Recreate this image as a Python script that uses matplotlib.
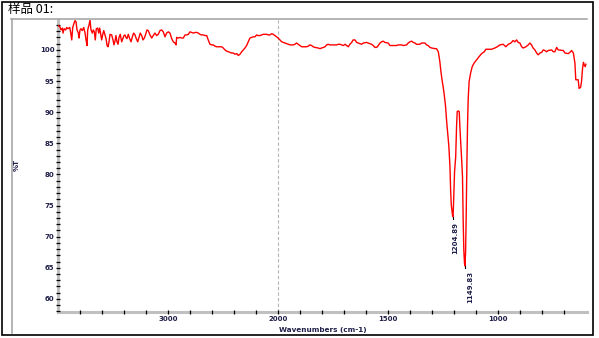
import numpy as np
import matplotlib
matplotlib.use("Agg")
import matplotlib.pyplot as plt
from matplotlib.lines import Line2D

# spectrum (wavenumber cm-1, %T)
wn = [4000, 3982, 3973, 3961, 3954, 3945, 3930, 3921, 3909, 3893, 3884, 3875, 3866, 3854,
      3845, 3836, 3827, 3815, 3809, 3800, 3791, 3779, 3766, 3754, 3745, 3736, 3730, 3718,
      3709, 3700, 3688, 3679, 3670, 3661, 3652, 3639, 3630, 3621, 3612, 3603, 3593, 3584,
      3573, 3563, 3554, 3545, 3536, 3527, 3512, 3500, 3491, 3482, 3473, 3464, 3454, 3445,
      3434, 3421, 3409, 3400, 3391, 3382, 3373, 3361, 3348, 3336, 3324, 3312, 3300, 3288,
      3275, 3264, 3252, 3239, 3227, 3215, 3203, 3191, 3179, 3166, 3148, 3134, 3118, 3103,
      3088, 3073, 3057, 3043, 3027, 3012, 2997, 2982, 2966, 2952, 2936, 2927, 2921, 2906,
      2891, 2875, 2861, 2845, 2830, 2815, 2800, 2784, 2770, 2754, 2739, 2724, 2709, 2694,
      2679, 2664, 2648, 2634, 2618, 2603, 2588, 2573, 2557, 2543, 2527, 2512, 2497, 2482,
      2466, 2452, 2436, 2421, 2406, 2391, 2375, 2361, 2345, 2330, 2315, 2300, 2285, 2270,
      2255, 2239, 2225, 2209, 2194, 2179, 2164, 2148, 2134, 2103, 2088, 2073, 2057, 2043,
      2027, 2012, 1999, 1991, 1983, 1976, 1968, 1953, 1945, 1930, 1923, 1915, 1908, 1900,
      1892, 1870, 1862, 1855, 1847, 1840, 1832, 1817, 1809, 1801, 1794, 1786, 1779, 1771,
      1764, 1733, 1726, 1718, 1703, 1695, 1688, 1680, 1673, 1665, 1658, 1650, 1642, 1635,
      1620, 1612, 1597, 1590, 1574, 1567, 1559, 1551, 1544, 1536, 1529, 1521, 1514, 1499,
      1491, 1461, 1453, 1438, 1430, 1415, 1408, 1400, 1392, 1385, 1377, 1370, 1355, 1347,
      1332, 1324, 1317, 1309, 1301, 1286, 1279, 1271, 1267, 1264, 1259, 1253, 1249, 1244,
      1238, 1233, 1229, 1223, 1218, 1215, 1212, 1207, 1205, 1203, 1200, 1197, 1192, 1188,
      1185, 1181, 1176, 1173, 1168, 1164, 1161, 1158, 1155, 1152, 1150, 1147, 1144, 1141,
      1138, 1135, 1131, 1124, 1117, 1108, 1097, 1086, 1074, 1062, 1055, 1029, 1014, 1003,
      991, 976, 964, 953, 941, 931, 923, 915, 908, 900, 892, 885, 873, 862, 855, 847, 840,
      832, 824, 817, 809, 801, 794, 786, 779, 771, 756, 748, 741, 733, 726, 703, 695, 680,
      673, 665, 657, 650, 646, 635, 631, 624, 620, 615, 611, 608, 603, 600]
tr = [103.9, 103.7, 103.2, 103.5, 102.7, 103.4, 103.2, 103.6, 103.4, 103.6, 102.7, 101.6,
      103.6, 104.3, 104.7, 104.5, 103.2, 102.7, 101.9, 103.2, 103.4, 103.1, 103.6, 102.7,
      101.6, 100.7, 103.2, 104.0, 104.8, 103.2, 102.7, 103.2, 102.9, 101.6, 103.4, 103.5,
      102.7, 103.5, 102.5, 101.6, 102.5, 103.1, 102.4, 101.8, 100.7, 100.5, 101.3, 102.5,
      102.4, 101.6, 100.8, 101.4, 102.3, 101.3, 100.9, 102.0, 102.5, 101.3, 101.9, 102.3,
      102.4, 102.0, 101.8, 102.5, 101.8, 101.3, 102.1, 102.7, 102.4, 101.8, 101.3, 102.0,
      102.7, 102.3, 101.6, 101.9, 102.5, 103.2, 103.1, 102.5, 101.9, 102.3, 102.7, 102.3,
      102.5, 103.1, 103.2, 102.9, 102.1, 102.7, 102.9, 102.7, 101.8, 101.3, 101.1, 100.8,
      102.0, 101.9, 102.0, 101.9, 101.9, 102.4, 102.4, 102.5, 102.9, 102.8, 102.7, 102.8,
      102.8, 102.7, 102.5, 102.4, 102.4, 102.3, 102.3, 101.6, 100.9, 100.8, 100.8, 100.6,
      100.5, 100.5, 100.5, 100.5, 100.3, 100.0, 99.8, 99.7, 99.6, 99.5, 99.5, 99.3, 99.4,
      99.1, 99.3, 99.7, 100.0, 100.3, 100.7, 101.3, 101.9, 102.0, 102.1, 102.1, 102.4,
      102.3, 102.3, 102.4, 102.5, 102.5, 102.4, 102.4, 102.6, 102.5, 102.3, 102.1, 101.9,
      101.6, 101.3, 101.2, 101.1, 100.9, 100.8, 100.8, 100.9, 101.1, 100.9, 100.7, 100.5,
      100.5, 100.6, 100.8, 100.7, 100.5, 100.4, 100.3, 100.2, 100.3, 100.4, 100.5, 100.8,
      100.9, 100.8, 100.8, 100.9, 100.9, 100.7, 100.9, 100.7, 100.5, 100.9, 101.2, 101.6,
      101.6, 101.2, 101.1, 100.9, 101.1, 101.2, 101.1, 100.9, 100.7, 100.4, 100.4, 100.7,
      101.1, 101.3, 101.4, 101.2, 101.1, 100.7, 100.7, 100.8, 100.8, 100.7, 100.8, 101.1,
      101.3, 101.4, 101.2, 101.1, 100.9, 100.9, 101.1, 101.1, 100.8, 100.7, 100.4, 100.3,
      100.2, 100.2, 99.7, 98.8, 98.1, 96.5, 94.9, 94.1, 92.8, 90.9, 88.5, 86.9, 84.5, 81.2,
      77.5, 75.1, 73.6, 73.2, 74.0, 77.0, 80.5, 82.8, 87.7, 90.1, 90.2, 90.1, 87.7, 84.5,
      81.8, 79.6, 72.7, 67.8, 65.8, 65.3, 67.5, 74.0, 81.8, 88.2, 92.2, 94.9, 96.3, 97.3,
      97.9, 98.4, 98.9, 99.4, 99.7, 100.1, 100.1, 100.3, 100.5, 100.8, 100.9, 100.5, 100.9,
      101.1, 101.5, 101.3, 101.6, 101.2, 101.1, 100.5, 100.3, 100.5, 100.8, 101.1, 100.8,
      100.3, 100.0, 99.5, 99.2, 99.5, 99.6, 100.0, 99.9, 99.7, 99.9, 100.0, 99.7, 99.7,
      100.4, 100.0, 99.9, 99.5, 99.4, 99.6, 99.9, 99.5, 97.9, 95.2, 95.2, 93.8, 94.0, 94.9,
      97.1, 98.0, 97.6, 97.3, 97.7]

peak_wn = [1204.89, 1149.83]
peak_tr = [73.2, 65.3]
peak_lbl = ["1204.89", "1149.83"]

x_major = [3000, 2000, 1500, 1000]
x_minor = [3800, 3600, 3400, 3200, 2800, 2600, 2400, 2200,
           1900, 1800, 1700, 1600, 1400, 1300, 1200, 1100, 900, 800, 700]
y_major = [60, 65, 70, 75, 80, 85, 90, 95, 100]


# FTIR style axis: above 2000 cm-1 the scale is compressed by 2
def fwd(w):
    w = np.asarray(w, dtype=float)
    return np.where(w > 2000, 2000 + (w - 2000) / 2.0, w)


def inv(u):
    u = np.asarray(u, dtype=float)
    return np.where(u > 2000, 2000 + (u - 2000) * 2.0, u)


W, H = 599, 338
fig = plt.figure(figsize=(W / 100, H / 100), dpi=100)
ax = fig.add_axes([58 / W, 1 - 312 / H, (587 - 58) / W, (312 - 20) / H])
ax.set_xscale("function", functions=(fwd, inv))

ax.plot(wn, tr, color="#ff0000", lw=1.0, zorder=3)
ax.axvline(2000, color="#b4b4b4", lw=0.8, ls=(0, (3, 2)), zorder=1)

ax.set_xlim(4000, 595)
ax.set_ylim(57.9, 104.8)

ax.set_xticks(x_major)
ax.set_xticks(x_minor, minor=True)
ax.set_yticks(y_major)
ax.set_yticks(np.arange(58, 105, 1), minor=True)
ax.set_xticklabels([str(v) for v in x_major])

tick_font = dict(fontsize=5, fontweight="bold", color="#20204a")
for lab in ax.get_xticklabels() + ax.get_yticklabels():
    lab.set_fontsize(5)
    lab.set_fontweight("bold")
    lab.set_color("#20204a")
ax.tick_params(which="both", direction="inout", length=2.2, width=0.9, color="black")
ax.tick_params(axis="x", pad=2)
ax.tick_params(axis="y", pad=1.5)

for s in ["top", "right"]:
    ax.spines[s].set_visible(False)
for s in ["left", "bottom"]:
    ax.spines[s].set_color("#c0c0c0")
    ax.spines[s].set_linewidth(2.2)
    ax.spines[s].set_zorder(0.5)
ax.set_axisbelow(False)

# peak labels
for w, t, lbl, dx in zip(peak_wn, peak_tr, peak_lbl, [2, 5]):
    ax.plot([w, w], [t, t - 0.35], color="black", lw=0.8, zorder=4)
    ax.annotate(lbl, xy=(w, t), xytext=(dx, -5), textcoords="offset pixels",
                rotation=90, ha="center", va="top", **tick_font)

fig.text(322.5 / W, 1 - 330 / H, "Wavenumbers (cm-1)", ha="center", va="center",
         fontsize=5.2, fontweight="bold", color="#20204a")
fig.text(17 / W, 1 - 165 / H, "%T", rotation=90, ha="center", va="center",
         fontsize=5, fontweight="bold", color="#20204a")

fig.text(8 / W, 1 - 10 / H, "样品 01:", ha="left", va="center", fontsize=9,
         family=["Noto Sans CJK SC", "DejaVu Sans"], color="black")

# gray inner frame and black outer border
fig.add_artist(Line2D([11 / W, 587 / W], [1 - 19 / H, 1 - 19 / H],
                      transform=fig.transFigure, color="#a0a0a0", lw=1.1))
fig.add_artist(Line2D([11.5 / W, 11.5 / W], [1 - 19 / H, 1 - 333 / H],
                      transform=fig.transFigure, color="#a0a0a0", lw=1.1))
fig.add_artist(plt.Rectangle((2 / W, 1 - 335 / H), 591 / W, 333 / H,
                             transform=fig.transFigure, fill=False,
                             edgecolor="black", lw=1.2))

fig.savefig("out.png", dpi=100)
